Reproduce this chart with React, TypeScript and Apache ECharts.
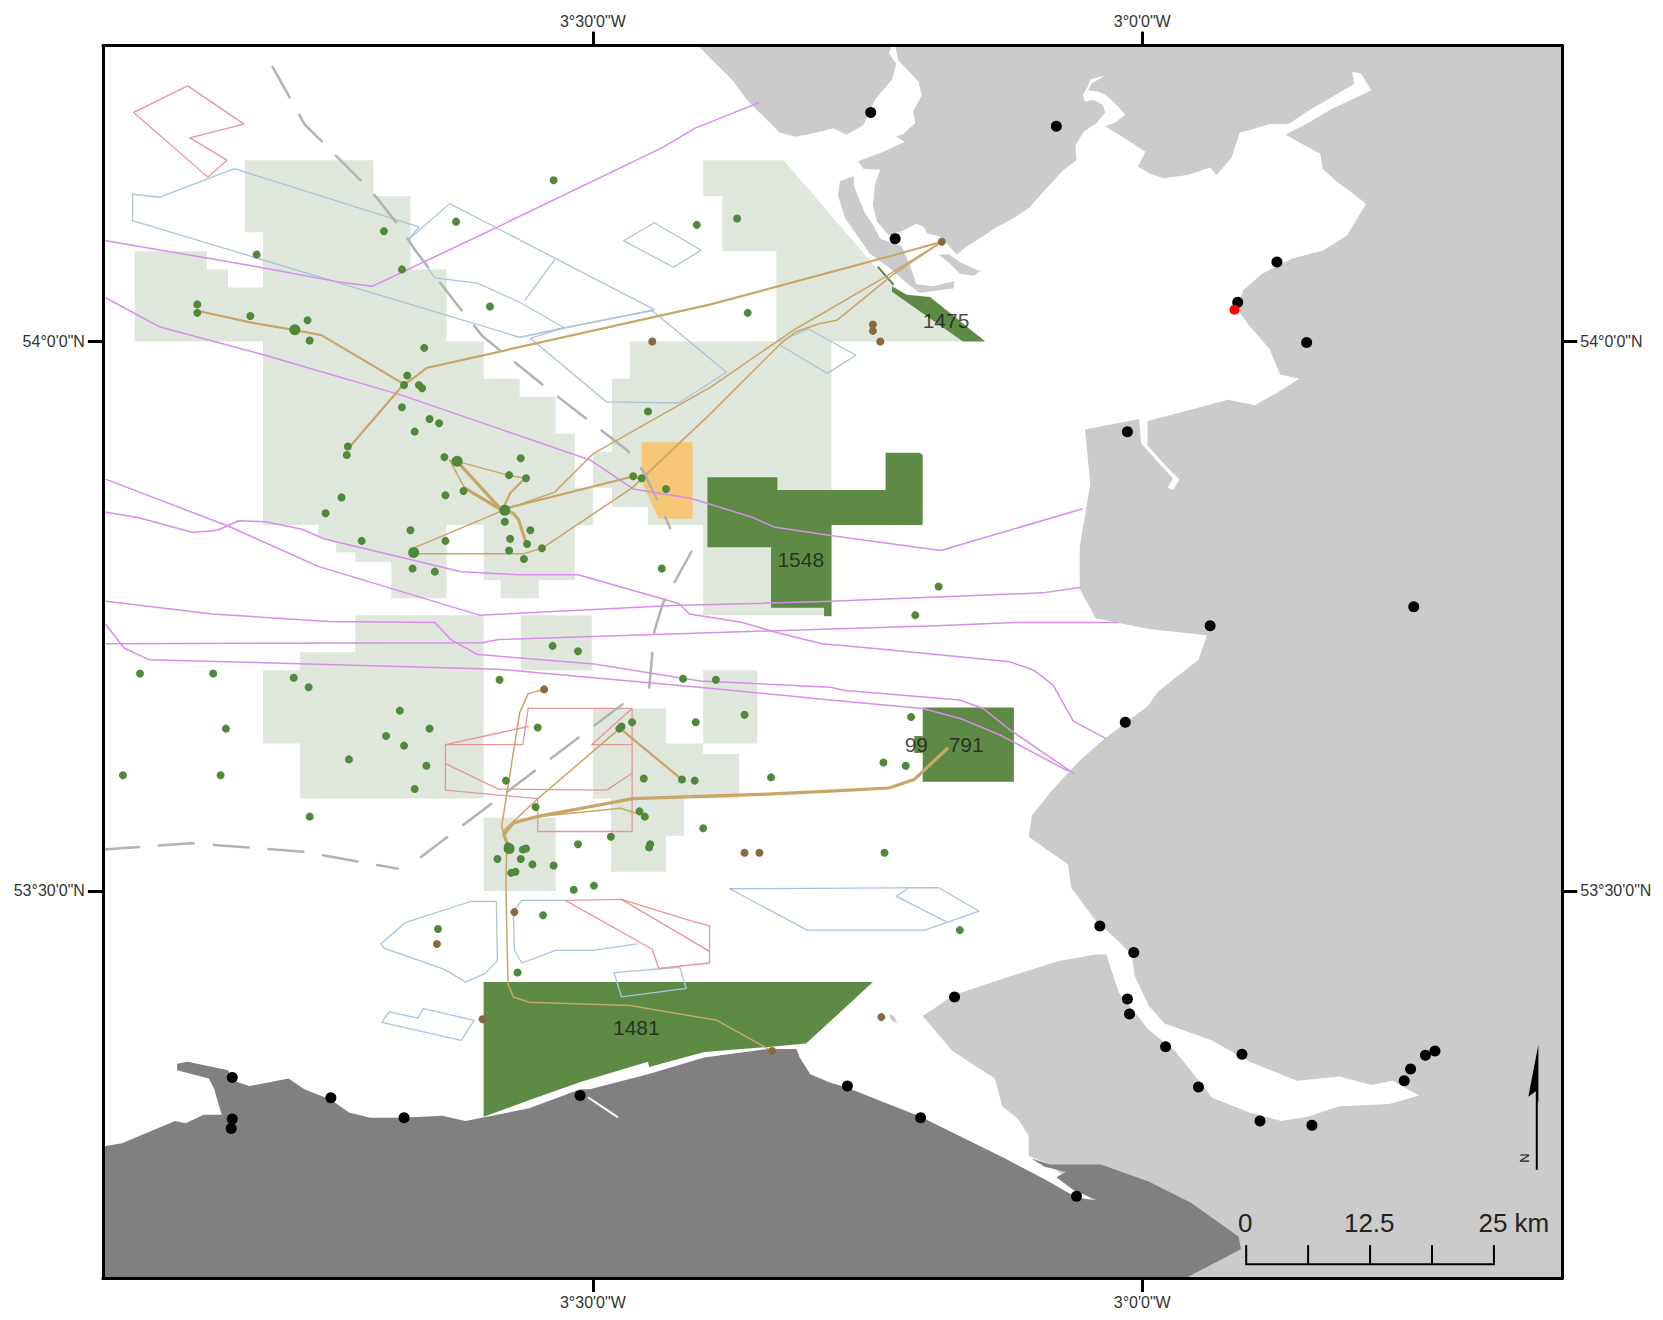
import React, { useEffect, useRef } from "react";
import * as echarts from "echarts";

type P = number[];

// Map grid readings: g = map grid units; 518 units = 30 minutes of arc.
const lon = (x: number) => -3 + (x - 1077) / 1036;
const lat = (y: number) => 54 - (y - 322) / 1036;
const UNIT = 1663 / 1568;
const gridW = 97, gridE = 1473, gridN = 43, gridS = 1205;

const lonTicks = [-3.5, -3];
const lonLabels = ['3°30\'0"W', '3°0\'0"W'];
const latTicks = [53.5, 54];
const latLabels = ['53°30\'0"N', '54°0\'0"N'];

const landWestFurness: P[] = [[658,43],[675,60],[690,75],[705,95],[722,112],[735,125],[750,129],[770,125],[786,121],[798,127],[814,118],[825,94],[841,75],[845,60],[838,50],[841,43]];
const landEast: P[] = [[844,43],[847,57],[856,66],[866,77],[869,90],[861,105],[863,116],[852,126],[845,129],[853,134],[833,143],[809,152],[814,159],[830,160],[825,174],[823,193],[827,209],[838,222],[852,217],[864,211],[871,214],[874,220],[886,223],[894,231],[902,240],[911,233],[925,224],[940,214],[955,206],[970,196],[980,185],[990,174],[1003,160],[1015,151],[1014,137],[1022,124],[1034,116],[1042,106],[1040,99],[1031,94],[1023,96],[1021,89],[1026,81],[1028,75],[1042,71],[1029,79],[1026,85],[1034,86],[1042,89],[1051,97],[1061,108],[1051,116],[1042,119],[1060,130],[1080,143],[1073,157],[1085,164],[1097,168],[1120,165],[1141,158],[1147,165],[1161,149],[1169,125],[1177,123],[1197,117],[1215,117],[1233,105],[1255,92],[1277,79],[1275,68],[1283,69],[1293,85],[1255,103],[1235,115],[1212,127],[1230,137],[1245,145],[1247,159],[1260,171],[1275,182],[1288,192],[1270,222],[1248,236],[1218,244],[1190,258],[1172,274],[1167,292],[1177,306],[1197,329],[1207,353],[1225,357],[1203,371],[1183,382],[1158,377],[1120,387],[1082,397],[1082,420],[1100,440],[1112,452],[1106,462],[1125,472],[1110,464],[1101,460],[1106,451],[1092,436],[1076,418],[1074,395],[1023,405],[1028,456],[1018,516],[1018,555],[1033,583],[1083,593],[1138,599],[1130,622],[1092,652],[1082,666],[1042,696],[1018,717],[992,745],[973,769],[970,789],[1007,815],[1010,837],[1033,868],[1055,888],[1067,900],[1070,920],[1083,948],[1098,965],[1143,981],[1178,1001],[1223,1019],[1263,1015],[1293,1023],[1313,1019],[1338,1033],[1310,1041],[1263,1043],[1233,1053],[1208,1057],[1178,1049],[1143,1035],[1108,991],[1083,971],[1068,952],[1055,936],[1043,900],[1033,900],[998,906],[948,922],[900,938],[870,958],[898,991],[938,1017],[945,1043],[960,1055],[970,1071],[970,1090],[990,1098],[1118,1205],[1473,1205],[1473,43]];
const landWalney: P[] = [[805,166],[792,171],[790,184],[797,206],[820,239],[839,253],[855,267],[867,276],[899,272],[900,265],[880,270],[864,268],[858,250],[850,232],[830,225],[823,212],[815,200],[805,175]];
const landIslet: P[] = [[885,240],[895,240],[905,247],[922,255],[925,255],[918,260],[905,258],[895,248]];
const landSmall: P[] = [[838,956],[843,958],[846,964],[841,963]];
const landWales: P[] = [[97,1081],[115,1078],[165,1057],[175,1059],[192,1051],[209,1051],[202,1027],[197,1017],[167,1009],[167,1003],[177,1001],[215,1009],[220,1019],[235,1024],[272,1017],[287,1027],[312,1037],[329,1049],[349,1054],[379,1054],[417,1052],[439,1057],[459,1053],[499,1045],[547,1027],[556,1027],[611,1013],[664,997],[724,989],[751,989],[754,997],[764,1013],[783,1021],[797,1025],[868,1053],[943,1090],[970,1104],[985,1112],[1015,1129],[1035,1132],[1012,1122],[996,1110],[1005,1105],[985,1100],[972,1092],[990,1098],[1038,1098],[1083,1114],[1123,1134],[1168,1166],[1170,1178],[1118,1205],[97,1205]];
const riverWales: P[] = [[555,1035],[570,1045],[582,1053]];

const blockNorthWest: P[] = [[127,237],[195,237],[195,254],[215,254],[215,271],[248,271],[248,219],[231,219],[231,151],[352,151],[352,185],[387,185],[387,254],[421,254],[421,322],[456,322],[456,357],[490,357],[490,374],[524,374],[524,409],[542,409],[542,460],[559,460],[559,495],[542,495],[542,547],[508,547],[508,564],[472,564],[472,547],[456,547],[456,495],[421,495],[421,564],[369,564],[369,530],[335,530],[335,521],[317,521],[317,512],[300,506],[300,495],[248,495],[248,322],[127,322]];
const blockCentre: P[] = [[559,426],[577,426],[577,357],[594,357],[594,322],[732,322],[732,237],[681,237],[681,185],[663,185],[663,151],[739,151],[841,270],[908,322],[784,322],[784,580],[663,580],[663,495],[611,495],[611,478],[577,478],[577,460],[559,460]];
const blockWest: P[] = [[335,580],[456,580],[456,753],[283,753],[283,701],[248,701],[248,632],[283,632],[283,615],[335,615]];
const blockMiddle: P[] = [[491,580],[558,580],[558,632],[491,632]];
const blockEast: P[] = [[663,632],[714,632],[714,701],[663,701]];
const blockSouthCentre: P[] = [[559,668],[628,668],[628,701],[663,701],[663,711],[697,711],[697,753],[645,753],[645,788],[628,788],[628,822],[576,822],[576,753],[559,753]];
const blockSouth: P[] = [[456,771],[524,771],[524,840],[456,840]];

const siteOrange: P[] = [[605,417],[653,417],[653,489],[621,489],[610,465],[605,453]];
const site1548: P[] = [[667,450],[733,450],[733,462],[835,462],[835,427],[867,427],[870,429],[870,495],[784,495],[784,581],[777,581],[777,573],[727,573],[727,516],[667,516]];
const site791: P[] = [[870,667],[956,667],[956,737],[870,737]];
const site99: P[] = [[862,694],[870,694],[870,710],[862,710]];
const site1475: P[] = [[841,270],[855,278],[877,280],[929,322],[908,322],[841,275]];
const site1475Sliver: P[] = [[828,252],[842,268]];
const site1481: P[] = [[456,926],[823,926],[760,984],[727,987],[664,992],[612,1006],[611,1001],[548,1020],[500,1037],[456,1053]];

const pinkLines: P[][] = [
  [[715,97],[655,121],[625,139],[465,216],[351,270],[320,266],[240,251],[100,227]],
  [[100,281],[150,308],[250,335],[380,373],[557,434],[597,461],[652,470],[710,488],[730,497],[783,505],[887,519],[1020,480]],
  [[100,452],[215,496],[300,534],[452,580],[635,571],[783,567],[983,559],[1018,554]],
  [[100,483],[130,488],[182,502],[205,500],[225,491],[250,492],[285,499],[305,508],[435,539],[490,542],[545,542],[640,569],[650,579],[700,587],[735,597],[775,607],[830,612],[952,624],[975,632],[993,646],[1012,680],[1042,696]],
  [[100,567],[200,579],[310,586],[410,587],[425,603],[450,617],[560,626],[660,642],[783,648],[797,651],[905,660],[927,668],[952,688],[1012,729]],
  [[100,607],[455,606],[470,603],[784,593],[883,590],[957,587],[1053,587]],
  [[100,589],[117,611],[140,622],[470,631],[659,648],[783,660],[870,668],[907,678],[943,693],[1007,727]],
];

const blueLines: P[][] = [
  [[125,183],[150,186],[221,159],[395,214],[385,226],[410,262],[450,267],[490,285],[532,309],[490,318],[125,208],[125,183]],
  [[385,226],[424,192],[617,292],[490,318]],
  [[500,319],[532,309],[615,293],[685,351],[640,380],[572,379],[500,319]],
  [[523,245],[495,283]],
  [[617,210],[661,236],[635,252],[588,227],[617,210]],
  [[735,322],[762,310],[807,335],[780,352],[735,325]],
  [[359,890],[382,870],[444,850],[468,850],[469,906],[457,918],[439,926],[419,914],[362,894],[359,890]],
  [[534,849],[492,849],[484,860],[485,896],[492,908],[524,896],[559,896],[601,890]],
  [[579,917],[641,912],[647,932],[586,940],[579,917]],
  [[360,964],[367,954],[394,960],[399,951],[447,962],[435,981],[360,964]],
  [[688,838],[885,837],[923,859],[872,877],[761,877],[746,869],[688,838]],
  [[857,837],[845,845],[892,869]],
];

const redLines: P[][] = [
  [[177,81],[230,117],[179,130],[214,151],[196,167],[126,106],[177,81]],
  [[498,668],[596,668],[558,702],[596,702],[596,668]],
  [[596,702],[596,784],[507,784],[507,753],[420,745],[420,702],[493,702],[498,668]],
  [[420,720],[470,744],[572,745],[596,729]],
  [[420,702],[498,685]],
  [[533,849],[586,848],[654,869],[669,873],[669,908],[621,913],[615,895],[533,849]],
  [[586,848],[669,897]],
];

const shippingDashes: P[][] = [
  [[257,63],[287,117],[350,180],[380,218],[390,234],[430,286],[455,317],[522,371],[592,425],[607,445],[632,498]],
  [[652,520],[625,569],[617,595],[612,650]],
  [[587,664],[397,808]],
  [[98,801],[180,795],[285,803],[375,819]],
];

const cableThick: P[][] = [
  [[893,706],[862,735],[838,743],[783,746],[717,749],[597,753],[506,770],[484,776],[475,787],[480,800]],
  [[473,481],[431,435]],
  [[438,460],[473,481]],
  [[475,481],[484,484],[489,490],[496,512]],
];
const cableMedium: P[][] = [
  [[888,228],[845,240],[670,287],[402,347],[392,355],[380,363],[330,421]],
  [[186,293],[236,304],[277,311],[303,316],[379,361]],
  [[475,478],[481,465],[495,451]],
  [[478,479],[594,450],[605,451]],
  [[586,688],[643,735]],
];
const cableThin: P[][] = [
  [[431,435],[424,434],[438,460]],
  [[431,435],[479,448],[495,451]],
  [[475,481],[387,518]],
  [[390,522],[494,522],[511,517],[596,460],[670,390],[735,325],[750,313],[773,305],[789,302],[842,259],[888,228]],
  [[475,481],[523,464],[559,428],[670,365],[750,310],[773,297],[833,262],[888,228]],
  [[513,650],[498,654],[490,672],[473,779],[478,798],[477,830],[478,883],[479,928],[484,940],[499,945],[594,948],[676,962],[728,991]],
  [[475,783],[506,754],[583,688]],
  [[506,770],[585,762],[604,768]],
];

const greenWells: P[] = [[522,170],[362,218],[430,209],[242,240],[379,254],[657,212],[695,206],[186,287],[186,295],[236,298],[290,302],[292,321],[462,289],[705,295],[400,328],[384,354],[381,363],[395,363],[398,366],[379,384],[405,395],[414,399],[391,407],[611,388],[419,431],[491,432],[328,421],[327,429],[480,448],[496,451],[437,463],[420,467],[322,469],[307,484],[476,492],[500,500],[387,500],[481,508],[420,510],[497,513],[480,519],[511,517],[341,510],[389,536],[410,539],[494,527],[624,536],[605,451],[597,449],[628,461],[885,553],[863,580],[521,609],[545,614],[132,635],[201,635],[277,639],[291,648],[471,641],[644,640],[675,641],[377,670],[405,687],[213,687],[364,694],[381,703],[329,716],[402,722],[391,744],[116,731],[208,731],[292,770],[507,686],[584,687],[586,685],[596,681],[656,681],[702,674],[477,736],[607,734],[643,735],[655,736],[727,733],[505,761],[603,765],[608,770],[663,781],[576,789],[545,796],[613,796],[612,799],[479,798],[481,801],[493,801],[496,800],[469,810],[491,810],[502,815],[522,816],[482,823],[486,822],[541,839],[560,835],[512,863],[413,876],[488,917],[834,804],[905,877],[859,676],[833,719],[854,722]];
const greenHubs: P[] = [[476,481],[431,435],[278,311],[390,521],[480,800]];
const brownWells: P[] = [[615,322],[888,228],[823,306],[823,312],[830,322],[513,650],[702,804],[716,804],[485,860],[412,890],[455,961],[831,959],[728,991]];
const blackPoints: P[] = [[821,106],[996,119],[844,225],[1204,247],[1167,285],[1232,323],[1063,407],[1141,590],[1333,572],[1061,681],[1037,873],[1069,898],[900,940],[1063,942],[1065,956],[1099,987],[1171,994],[1353,991],[1344,995],[1330,1008],[1324,1019],[1130,1025],[1188,1057],[1237,1061],[219,1016],[312,1035],[219,1055],[218,1064],[381,1054],[547,1033],[799,1024],[868,1054],[1015,1128]];
const redPoints: P[] = [[1164,292]];

const siteNames = ["1475", "1548", "99", "791", "1481"];
const sitePositions: P[] = [[892,302],[755,528],[864,702],[911,702],[600,969]];

const scaleKm = [0, 6.25, 12.5, 18.75, 25];
const scaleLabels = ["0", "12.5", "25 km"];

const FONT = "Liberation Sans, Arial, sans-serif";
const C = {
  land: "#CBCBCB", wales: "#808080", block: "#DFE6DC", green: "#5D8B46", orange: "#F5C776",
  pink: "#D98CEC", blue: "#A9C3DC", red: "#E79698", dash: "#B2B2B2", tan: "#C9A566",
  well: "#4E8A3A", brown: "#8A6A3C",
};

const toData = (p: P) => [lon(p[0]), lat(p[1])];

const polygons = (name: string, polys: P[][], fill: string, z: number) => ({
  type: "custom", name, z, silent: true, clip: true, coordinateSystem: "cartesian2d",
  data: polys.map((p) => toData(p[0])),
  renderItem: (params: any, api: any) => ({
    type: "polygon",
    shape: { points: polys[params.dataIndex].map((p) => api.coord(toData(p))) },
    style: { fill, stroke: "none" },
  }),
});

const lines = (name: string, list: P[][], color: string, width: number, z: number, dash?: number[]) =>
  list.map((pts, i) => ({
    type: "line", name: `${name} ${i}`, z, silent: true, clip: true, symbol: "none", showSymbol: false,
    data: pts.map(toData),
    lineStyle: { color, width, type: dash || "solid", cap: "round", join: "round" },
  }));

const dots = (name: string, pts: P[], color: string, size: number, z: number) => ({
  type: "scatter", name, z, silent: true, clip: true, symbolSize: size,
  data: pts.map(toData), itemStyle: { color, opacity: 1 },
});

const axisBase = {
  type: "value", z: 40, silent: true, splitLine: { show: false },
  axisLine: { show: true, onZero: false, lineStyle: { color: "#000", width: 3 } },
};
const xAxis = (position: string) => ({
  ...axisBase, position, min: lon(gridW), max: lon(gridE),
  axisTick: { show: true, length: 14, customValues: lonTicks, lineStyle: { color: "#000", width: 3 } },
  axisLabel: {
    show: true, customValues: lonTicks, margin: 16, fontFamily: FONT, fontSize: 16, color: "#333",
    formatter: (v: number) => lonLabels[lonTicks.findIndex((t) => Math.abs(t - v) < 1e-6)] ?? "",
  },
});
const yAxis = (position: string) => ({
  ...axisBase, position, min: lat(gridS), max: lat(gridN),
  axisTick: { show: true, length: 15, customValues: latTicks, lineStyle: { color: "#000", width: 3 } },
  axisLabel: {
    show: true, customValues: latTicks, margin: 18, fontFamily: FONT, fontSize: 16, color: "#333",
    formatter: (v: number) => latLabels[latTicks.findIndex((t) => Math.abs(t - v) < 1e-6)] ?? "",
  },
});

const sx = (g: number) => g * UNIT;
const scaleX = (km: number) => sx(1175 + (km / 25) * 233.6);
const seg = (x1: number, y1: number, x2: number, y2: number, width: number) => ({
  type: "line", z: 45, silent: true,
  shape: { x1, y1, x2, y2 }, style: { stroke: "#000", lineWidth: width },
});
const scaleGraphic = [
  seg(scaleX(0) - 1, sx(1192), scaleX(25) + 1, sx(1192), 2),
  ...scaleKm.map((km) => seg(scaleX(km), sx(1174), scaleX(km), sx(1192), 2)),
  { type: "text", z: 45, silent: true, x: sx(1174), y: sx(1153), style: { text: scaleLabels[0], font: `26px ${FONT}`, fill: "#222", textAlign: "center", textVerticalAlign: "middle" } },
  { type: "text", z: 45, silent: true, x: sx(1291), y: sx(1153), style: { text: scaleLabels[1], font: `26px ${FONT}`, fill: "#222", textAlign: "center", textVerticalAlign: "middle" } },
  { type: "text", z: 45, silent: true, x: sx(1394), y: sx(1153), style: { text: scaleLabels[2], font: `26px ${FONT}`, fill: "#222", textAlign: "left", textVerticalAlign: "middle" } },
  seg(sx(1449), sx(1030), sx(1449), sx(1103), 2),
  { type: "polygon", z: 45, silent: true, shape: { points: [[sx(1450.5), sx(985)], [sx(1441), sx(1034)], [sx(1448), sx(1029)], [sx(1450.5), sx(1040)]] }, style: { fill: "#000" } },
  { type: "text", z: 45, silent: true, x: sx(1437), y: sx(1092), rotation: Math.PI / 2, style: { text: "N", font: `13px ${FONT}`, fill: "#222", textAlign: "center", textVerticalAlign: "middle" } },
];

export default function App() {
  const ref = useRef<HTMLDivElement>(null);
  useEffect(() => {
    if (!ref.current) return;
    const chart = echarts.init(ref.current, undefined, { renderer: "svg" });
    chart.setOption({
      animation: false,
      backgroundColor: "#fff",
      grid: { left: gridW * UNIT, right: 1663 - gridE * UNIT, top: gridN * UNIT, bottom: 1320 - gridS * UNIT, containLabel: false },
      xAxis: [xAxis("bottom"), xAxis("top")],
      yAxis: [yAxis("left"), yAxis("right")],
      graphic: scaleGraphic,
      series: [
        polygons("Land", [landWestFurness, landEast, landWalney, landIslet, landSmall], C.land, 2),
        polygons("Wales", [landWales], C.wales, 3),
        ...lines("River", [riverWales], "#fff", 2, 4),
        polygons("Licence blocks", [blockNorthWest, blockCentre, blockWest, blockMiddle, blockEast, blockSouthCentre, blockSouth], C.block, 5),
        polygons("Orange site", [siteOrange], C.orange, 6),
        polygons("Green sites", [site1548, site791, site99, site1475, site1481], C.green, 7),
        ...lines("Green sliver", [site1475Sliver], C.green, 2, 7),
        ...lines("Blue", blueLines, C.blue, 1.3, 8),
        ...lines("Red", redLines, C.red, 1.3, 8),
        ...lines("Shipping", shippingDashes, C.dash, 2.5, 9, [35, 20]),
        ...lines("Pink", pinkLines, C.pink, 1.5, 10),
        ...lines("Cable thin", cableThin, C.tan, 1.5, 11),
        ...lines("Cable medium", cableMedium, C.tan, 2.2, 11),
        ...lines("Cable thick", cableThick, C.tan, 3.2, 11),
        dots("Wells", greenWells, C.well, 8, 12),
        dots("Hubs", greenHubs, C.well, 11, 12),
        dots("Brown wells", brownWells, C.brown, 8, 12),
        dots("Black points", blackPoints, "#000", 11, 13),
        dots("Red points", redPoints, "#FF0000", 10, 14),
        {
          type: "scatter", name: "Site labels", z: 15, silent: true, symbolSize: 1,
          itemStyle: { color: "transparent" },
          data: sitePositions.map((p, i) => ({ name: siteNames[i], value: toData(p) })),
          label: { show: true, position: "inside", formatter: "{b}", fontFamily: FONT, fontSize: 21, color: "#1a1a1a" },
        },
      ],
    });
    return () => chart.dispose();
  }, []);
  return <div ref={ref} style={{ position: "absolute", left: 0, top: 0, width: 1663, height: 1320 }} />;
}
